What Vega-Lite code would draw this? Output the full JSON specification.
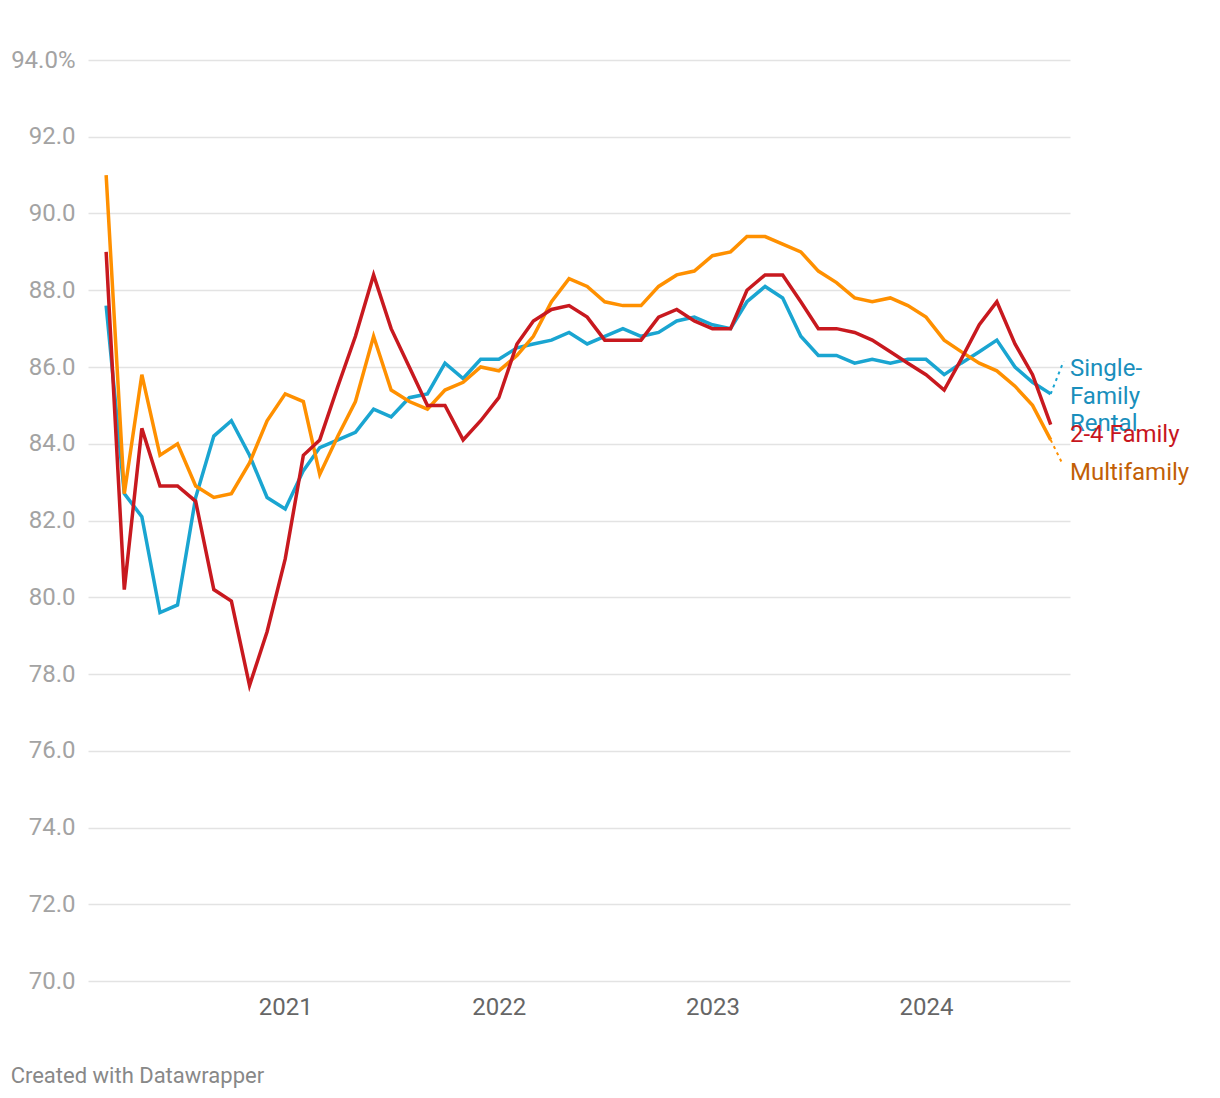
{
  "$schema": "https://vega.github.io/schema/vega-lite/v6.json",
  "width": 982,
  "height": 921,
  "autosize": {"type": "none"},
  "padding": {"left": 88, "top": 60, "right": 150, "bottom": 117},
  "background": "#ffffff",
  "config": {"view": {"stroke": null}, "font": "Roboto"},
  "title": {
    "text": "Created with Datawrapper",
    "orient": "bottom",
    "anchor": "start",
    "frame": "bounds",
    "offset": 47,
    "fontSize": 22,
    "fontWeight": "normal",
    "font": "Roboto",
    "color": "#888888"
  },
  "datasets": {
    "series": [
      {"d": "2020-03-01", "sfr": 87.6, "mf": 91.0, "fam": 89.0},
      {"d": "2020-04-01", "sfr": 82.7, "mf": 82.7, "fam": 80.2},
      {"d": "2020-05-01", "sfr": 82.1, "mf": 85.8, "fam": 84.4},
      {"d": "2020-06-01", "sfr": 79.6, "mf": 83.7, "fam": 82.9},
      {"d": "2020-07-01", "sfr": 79.8, "mf": 84.0, "fam": 82.9},
      {"d": "2020-08-01", "sfr": 82.6, "mf": 82.9, "fam": 82.5},
      {"d": "2020-09-01", "sfr": 84.2, "mf": 82.6, "fam": 80.2},
      {"d": "2020-10-01", "sfr": 84.6, "mf": 82.7, "fam": 79.9},
      {"d": "2020-11-01", "sfr": 83.7, "mf": 83.5, "fam": 77.7},
      {"d": "2020-12-01", "sfr": 82.6, "mf": 84.6, "fam": 79.1},
      {"d": "2021-01-01", "sfr": 82.3, "mf": 85.3, "fam": 81.0},
      {"d": "2021-02-01", "sfr": 83.3, "mf": 85.1, "fam": 83.7},
      {"d": "2021-03-01", "sfr": 83.9, "mf": 83.2, "fam": 84.1},
      {"d": "2021-04-01", "sfr": 84.1, "mf": 84.2, "fam": 85.5},
      {"d": "2021-05-01", "sfr": 84.3, "mf": 85.1, "fam": 86.8},
      {"d": "2021-06-01", "sfr": 84.9, "mf": 86.8, "fam": 88.4},
      {"d": "2021-07-01", "sfr": 84.7, "mf": 85.4, "fam": 87.0},
      {"d": "2021-08-01", "sfr": 85.2, "mf": 85.1, "fam": 86.0},
      {"d": "2021-09-01", "sfr": 85.3, "mf": 84.9, "fam": 85.0},
      {"d": "2021-10-01", "sfr": 86.1, "mf": 85.4, "fam": 85.0},
      {"d": "2021-11-01", "sfr": 85.7, "mf": 85.6, "fam": 84.1},
      {"d": "2021-12-01", "sfr": 86.2, "mf": 86.0, "fam": 84.6},
      {"d": "2022-01-01", "sfr": 86.2, "mf": 85.9, "fam": 85.2},
      {"d": "2022-02-01", "sfr": 86.5, "mf": 86.3, "fam": 86.6},
      {"d": "2022-03-01", "sfr": 86.6, "mf": 86.8, "fam": 87.2},
      {"d": "2022-04-01", "sfr": 86.7, "mf": 87.7, "fam": 87.5},
      {"d": "2022-05-01", "sfr": 86.9, "mf": 88.3, "fam": 87.6},
      {"d": "2022-06-01", "sfr": 86.6, "mf": 88.1, "fam": 87.3},
      {"d": "2022-07-01", "sfr": 86.8, "mf": 87.7, "fam": 86.7},
      {"d": "2022-08-01", "sfr": 87.0, "mf": 87.6, "fam": 86.7},
      {"d": "2022-09-01", "sfr": 86.8, "mf": 87.6, "fam": 86.7},
      {"d": "2022-10-01", "sfr": 86.9, "mf": 88.1, "fam": 87.3},
      {"d": "2022-11-01", "sfr": 87.2, "mf": 88.4, "fam": 87.5},
      {"d": "2022-12-01", "sfr": 87.3, "mf": 88.5, "fam": 87.2},
      {"d": "2023-01-01", "sfr": 87.1, "mf": 88.9, "fam": 87.0},
      {"d": "2023-02-01", "sfr": 87.0, "mf": 89.0, "fam": 87.0},
      {"d": "2023-03-01", "sfr": 87.7, "mf": 89.4, "fam": 88.0},
      {"d": "2023-04-01", "sfr": 88.1, "mf": 89.4, "fam": 88.4},
      {"d": "2023-05-01", "sfr": 87.8, "mf": 89.2, "fam": 88.4},
      {"d": "2023-06-01", "sfr": 86.8, "mf": 89.0, "fam": 87.7},
      {"d": "2023-07-01", "sfr": 86.3, "mf": 88.5, "fam": 87.0},
      {"d": "2023-08-01", "sfr": 86.3, "mf": 88.2, "fam": 87.0},
      {"d": "2023-09-01", "sfr": 86.1, "mf": 87.8, "fam": 86.9},
      {"d": "2023-10-01", "sfr": 86.2, "mf": 87.7, "fam": 86.7},
      {"d": "2023-11-01", "sfr": 86.1, "mf": 87.8, "fam": 86.4},
      {"d": "2023-12-01", "sfr": 86.2, "mf": 87.6, "fam": 86.1},
      {"d": "2024-01-01", "sfr": 86.2, "mf": 87.3, "fam": 85.8},
      {"d": "2024-02-01", "sfr": 85.8, "mf": 86.7, "fam": 85.4},
      {"d": "2024-03-01", "sfr": 86.1, "mf": 86.4, "fam": 86.2},
      {"d": "2024-04-01", "sfr": 86.4, "mf": 86.1, "fam": 87.1},
      {"d": "2024-05-01", "sfr": 86.7, "mf": 85.9, "fam": 87.7},
      {"d": "2024-06-01", "sfr": 86.0, "mf": 85.5, "fam": 86.6},
      {"d": "2024-07-01", "sfr": 85.6, "mf": 85.0, "fam": 85.8},
      {"d": "2024-08-01", "sfr": 85.3, "mf": 84.1, "fam": 84.5}
    ],
    "connectors": [
      {"key": "sfr", "d": "2024-08-01", "v": 85.3},
      {"key": "sfr", "d": "2024-08-23", "v": 86.15},
      {"key": "mf", "d": "2024-08-01", "v": 84.1},
      {"key": "mf", "d": "2024-08-22", "v": 83.45}
    ],
    "labels": [
      {"key": "sfr", "d": "2024-09-03", "v": 86.26, "label": ["Single-", "Family", "Rental"]},
      {"key": "fam", "d": "2024-09-03", "v": 84.55, "label": ["2-4 Family"]},
      {"key": "mf", "d": "2024-09-03", "v": 83.56, "label": ["Multifamily"]}
    ]
  },
  "resolve": {"scale": {"color": "independent"}},
  "layer": [
    {
      "data": {"name": "series"},
      "transform": [{"fold": ["sfr", "mf", "fam"], "as": ["key", "v"]}],
      "mark": {"type": "line", "strokeWidth": 3.5, "strokeJoin": "miter", "strokeCap": "butt"},
      "encoding": {
        "x": {
          "field": "d",
          "type": "temporal",
          "scale": {"type": "utc", "domain": [{"year": 2020, "month": 1, "date": 30, "utc": true}, {"year": 2024, "month": 9, "date": 3, "utc": true}]},
          "axis": {
            "values": [{"year": 2021, "utc": true}, {"year": 2022, "utc": true}, {"year": 2023, "utc": true}, {"year": 2024, "utc": true}],
            "format": "%Y",
            "grid": false,
            "domain": false,
            "ticks": false,
            "labelPadding": 14,
            "labelFontSize": 24,
            "labelColor": "#666666",
            "labelFont": "Roboto",
            "title": null
          }
        },
        "y": {
          "field": "v",
          "type": "quantitative",
          "scale": {"domain": [70, 94], "nice": false, "zero": false},
          "axis": {
            "values": [70, 72, 74, 76, 78, 80, 82, 84, 86, 88, 90, 92, 94],
            "grid": true,
            "gridColor": "#e3e3e3",
            "gridWidth": 1.5,
            "domain": false,
            "ticks": false,
            "labelPadding": 13,
            "labelFontSize": 24,
            "labelColor": "#a3a3a3",
            "labelFont": "Roboto",
            "title": null,
            "labelExpr": "datum.value == 94 ? format(datum.value, '.1f') + '%' : format(datum.value, '.1f')"
          }
        },
        "color": {
          "field": "key",
          "type": "nominal",
          "scale": {"domain": ["sfr", "mf", "fam"], "range": ["#1aa5d1", "#ff9000", "#c8191f"]},
          "legend": null
        }
      }
    },
    {
      "data": {"name": "connectors"},
      "mark": {"type": "line", "strokeWidth": 2, "strokeDash": [3, 4]},
      "encoding": {
        "x": {"field": "d", "type": "temporal"},
        "y": {"field": "v", "type": "quantitative"},
        "detail": {"field": "key"},
        "color": {"field": "key", "type": "nominal", "scale": {"domain": ["sfr", "mf", "fam"], "range": ["#1aa5d1", "#ff9000", "#c8191f"]}, "legend": null}
      }
    },
    {
      "data": {"name": "labels"},
      "mark": {"type": "text", "align": "left", "baseline": "top", "fontSize": 24, "font": "Roboto", "lineHeight": 27.5, "dx": 0},
      "encoding": {
        "x": {"field": "d", "type": "temporal"},
        "y": {"field": "v", "type": "quantitative"},
        "text": {"field": "label"},
        "color": {"field": "key", "type": "nominal", "scale": {"domain": ["sfr", "mf", "fam"], "range": ["#1a8fbc", "#c25f06", "#c7161e"]}, "legend": null}
      }
    }
  ]
}
